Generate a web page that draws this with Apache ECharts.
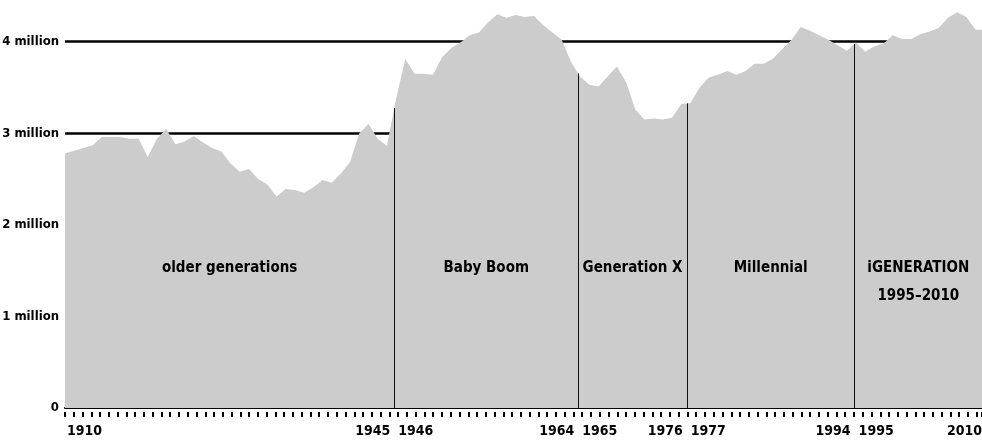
<!DOCTYPE html>
<html>
<head>
<meta charset="utf-8">
<script src="https://cdn.jsdelivr.net/npm/echarts@6/dist/echarts.min.js"></script>
<style>
html,body{margin:0;padding:0;background:#fff;}
#c{width:982px;height:441px;}
</style>
</head>
<body>
<div id="c"></div>
<script>
// ---- data ----
const years = [1910,1911,1912,1913,1914,1915,1916,1917,1918,1919,
  1920,1921,1922,1923,1924,1925,1926,1927,1928,1929,
  1930,1931,1932,1933,1934,1935,1936,1937,1938,1939,
  1940,1941,1942,1943,1944,1945,1946,1947,1948,1949,
  1950,1951,1952,1953,1954,1955,1956,1957,1958,1959,
  1960,1961,1962,1963,1964,1965,1966,1967,1968,1969,
  1970,1971,1972,1973,1974,1975,1976,1977,1978,1979,
  1980,1981,1982,1983,1984,1985,1986,1987,1988,1989,
  1990,1991,1992,1993,1994,1995,1996,1997,1998,1999,
  2000,2001,2002,2003,2004,2005,2006,2007,2008,2009,2010];
// births per year, millions
const births = [2.78,2.81,2.84,2.87,2.96,2.96,2.96,2.94,2.94,2.74,
  2.94,3.05,2.88,2.91,2.97,2.90,2.84,2.80,2.67,2.58,
  2.61,2.50,2.44,2.31,2.39,2.38,2.35,2.41,2.49,2.46,
  2.56,2.69,3.00,3.10,2.94,2.86,3.38,3.81,3.65,3.65,
  3.64,3.83,3.93,3.99,4.07,4.10,4.21,4.30,4.26,4.29,
  4.27,4.28,4.18,4.10,4.02,3.78,3.62,3.53,3.51,3.62,
  3.73,3.56,3.26,3.15,3.16,3.15,3.17,3.32,3.33,3.50,
  3.61,3.64,3.68,3.64,3.68,3.76,3.76,3.82,3.92,4.02,
  4.16,4.12,4.07,4.02,3.96,3.90,3.99,3.89,3.95,3.98,
  4.07,4.03,4.03,4.08,4.11,4.15,4.26,4.32,4.27,4.13,4.13];
const yTickValues = [0,1,2,3,4];
const generationBoundaries = [1945.8, 1965.8, 1977.6, 1995.85];
const boundaryLabels = [['1945','1946'],['1964','1965'],['1976','1977'],['1994','1995']];
const edgeLabels = ['1910','2010'];
const generationNames = ['older generations','Baby Boom','Generation X','Millennial','iGENERATION\n1995\u20132010'];

// ---- chart ----
const FONT = "'Liberation Sans Narrow','DejaVu Sans Condensed','Arial Narrow',sans-serif";
const X_MIN = 1910, X_MAX = 2009.7;
const Y_MAX = 4.455;
const TICK_FS = 14, Y_FS = 13, REGION_FS = 15;

const mctx = document.createElement('canvas').getContext('2d');
mctx.font = 'bold ' + TICK_FS + 'px ' + FONT;
const edgeW = mctx.measureText(edgeLabels[0]).width;

function interp(x){
  for (let i = 0; i < years.length - 1; i++) {
    if (x >= years[i] && x <= years[i+1]) {
      const t = (x - years[i]) / (years[i+1] - years[i]);
      return births[i] + t * (births[i+1] - births[i]);
    }
  }
  return births[births.length-1];
}

const labelValues = [X_MIN].concat(generationBoundaries, [X_MAX]);
const edges = [X_MIN].concat(generationBoundaries, [X_MAX]);
const regionCenters = generationNames.map((n,i) => (edges[i] + edges[i+1]) / 2);
const LABEL_LEVEL = 1.53;

const chart = echarts.init(document.getElementById('c'), null, {renderer:'canvas'});
chart.setOption({
  animation: false,
  backgroundColor: '#fff',
  grid: {left: 65, right: 0, top: 0, bottom: 33, containLabel: false, outerBoundsMode: 'none'},
  xAxis: [{
    type: 'value', min: X_MIN, max: X_MAX, position: 'bottom', offset: 4,
    axisLine: {show: true, lineStyle: {color: '#000', width: 2}},
    axisTick: {show: false},
    splitLine: {show: false},
    axisLabel: {
      show: true, customValues: labelValues, margin: 12, hideOverlap: false,
      formatter: function (v) {
        let k = 0, best = Infinity;
        labelValues.forEach((lv, i) => { const d = Math.abs(lv - v); if (d < best) { best = d; k = i; } });
        if (k === 0) return '{sl|}{t|' + edgeLabels[0] + '}';
        if (k === labelValues.length - 1) return '{t|' + edgeLabels[1] + '}{sr|}';
        const p = boundaryLabels[k-1];
        return '{t|' + p[0] + '}{g|}{t|' + p[1] + '}';
      },
      rich: {
        t: {fontFamily: FONT, fontSize: TICK_FS, fontWeight: 'bold', color: '#000'},
        g: {width: 8},
        sl: {width: edgeW + 4},
        sr: {width: edgeW}
      }
    }
  }, {
    type: 'value', min: 0, max: 104.6, interval: 1, position: 'bottom', offset: 4,
    axisLine: {show: false},
    axisTick: {show: true, length: 5, lineStyle: {color: '#000', width: 2}},
    axisLabel: {show: false},
    splitLine: {show: false}
  }],
  yAxis: {
    type: 'value', min: 0, max: Y_MAX, interval: 1,
    axisLine: {show: false}, axisTick: {show: false},
    axisLabel: {
      show: true, margin: 6, showMaxLabel: false,
      fontFamily: FONT, fontSize: Y_FS, fontWeight: 'bold', color: '#000',
      formatter: v => (yTickValues.indexOf(v) < 0 ? '' : (v === 0 ? '0' : v + ' million'))
    },
    splitLine: {show: true, showMinLine: false, showMaxLine: false, lineStyle: {color: '#000', width: 2.5}}
  },
  series: [{
    type: 'line', xAxisIndex: 0, yAxisIndex: 0,
    data: years.map((y, i) => [y, births[i]]),
    symbol: 'none', clip: true, silent: true,
    lineStyle: {width: 0, opacity: 0},
    areaStyle: {color: '#cccccc', opacity: 1},
    markLine: {
      silent: true, symbol: ['none', 'none'],
      lineStyle: {color: '#111', width: 1, type: 'solid'},
      label: {show: false},
      emphasis: {disabled: true},
      data: generationBoundaries.map(d => [{coord: [d, 0]}, {coord: [d, interp(d)]}])
    },
    markPoint: {
      silent: true, symbol: 'circle', symbolSize: 1,
      itemStyle: {color: 'rgba(0,0,0,0)'},
      label: {
        show: true, position: 'inside', formatter: p => p.name,
        fontFamily: FONT, fontSize: REGION_FS, fontWeight: 'bold', color: '#000',
        lineHeight: 28, align: 'center', verticalAlign: 'middle'
      },
      data: generationNames.map((n, i) => {
        const item = {name: n, coord: [regionCenters[i], LABEL_LEVEL]};
        if (n.indexOf('\n') >= 0) item.label = {offset: [0, 14]};
        return item;
      })
    }
  }]
});
</script>
</body>
</html>
